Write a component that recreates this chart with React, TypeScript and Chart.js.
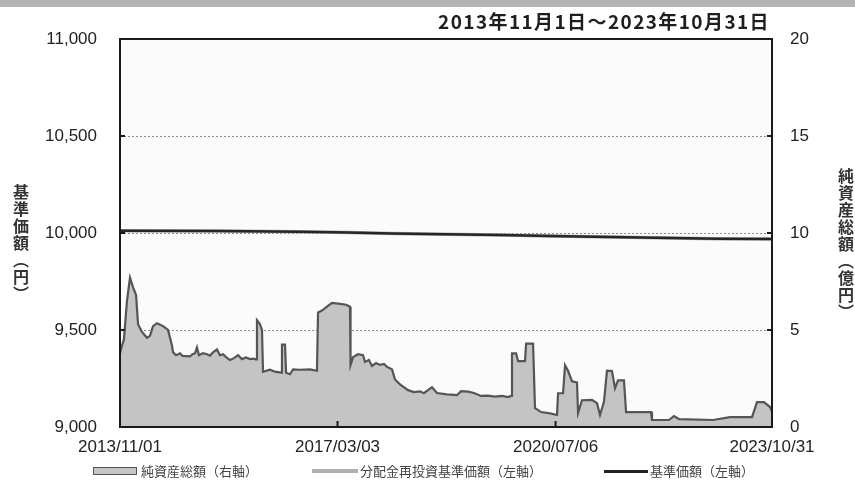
import React, { useEffect, useRef } from "react";
import { Chart, registerables } from "chart.js";

Chart.register(...registerables);

// ---- text ----
const periodLabel = "2013年11月1日～2023年10月31日";
const leftAxisTitle = "基準価額（円）";
const rightAxisTitle = "純資産総額（億円）";
const seriesNames = ["純資産総額（右軸）", "分配金再投資基準価額（左軸）", "基準価額（左軸）"];

// ---- axes ----
const xTickDays = [0, 1218, 2439, 3651]; // days since 2013/11/01
const xTickLabels = ["2013/11/01", "2017/03/03", "2020/07/06", "2023/10/31"];
const leftTicks = [9000, 9500, 10000, 10500, 11000];
const rightTicks = [0, 5, 10, 15, 20];

// ---- net assets (億円), right axis : days since 2013/11/01 ----
const navDays = [
  0, 11, 22, 39, 56, 73, 90, 101, 123, 151,
  168, 185, 207, 241, 269, 291, 297, 314, 336, 350,
  370, 392, 406, 420, 431, 442, 465, 487, 504, 521,
  543, 560, 577, 594, 616, 638, 661, 683, 705, 728,
  745, 762, 767, 784, 795, 801, 840, 868, 902, 907,
  924, 930, 952, 969, 1008, 1064, 1103, 1109, 1131, 1159,
  1187, 1232, 1266, 1288, 1291, 1305, 1333, 1361, 1372, 1394,
  1411, 1434, 1456, 1478, 1495, 1523, 1540, 1568, 1613, 1646,
  1680, 1702, 1747, 1775, 1831, 1887, 1910, 1949, 1982, 2022,
  2060, 2100, 2140, 2173, 2190, 2195, 2218, 2229, 2268, 2274,
  2313, 2324, 2358, 2408, 2447, 2453, 2481, 2492, 2509, 2531,
  2559, 2565, 2587, 2643, 2671, 2688, 2710, 2727, 2755, 2772,
  2789, 2822, 2834, 2974, 2979, 3074, 3102, 3130, 3321, 3416,
  3539, 3567, 3606, 3640, 3651,
];
const navValues = [
  3.8, 4.2, 4.5, 6.5, 7.7, 7.2, 6.8, 5.3, 4.9, 4.6,
  4.7, 5.2, 5.35, 5.2, 5.0, 4.2, 3.85, 3.7, 3.8, 3.66,
  3.65, 3.64, 3.75, 3.8, 4.1, 3.7, 3.8, 3.75, 3.68, 3.85,
  4.0, 3.7, 3.75, 3.6, 3.45, 3.55, 3.7, 3.5, 3.58, 3.5,
  3.52, 3.49, 5.5, 5.3, 5.0, 2.85, 2.95, 2.85, 2.8, 4.25,
  4.25, 2.8, 2.72, 2.97, 2.95, 2.97, 2.9, 5.9, 6.0, 6.2,
  6.4, 6.35, 6.3, 6.2, 3.2, 3.6, 3.75, 3.7, 3.35, 3.45,
  3.15, 3.3, 3.2, 3.25, 3.1, 2.97, 2.45, 2.2, 1.9, 1.8,
  1.84, 1.74, 2.05, 1.75, 1.68, 1.64, 1.85, 1.82, 1.75, 1.6,
  1.62, 1.57, 1.6, 1.54, 1.6, 3.8, 3.8, 3.4, 3.4, 4.3,
  4.3, 0.97, 0.77, 0.7, 0.62, 1.74, 1.74, 3.18, 2.9, 2.36,
  2.3, 0.72, 1.38, 1.4, 1.23, 0.62, 1.3, 2.9, 2.88, 2.0,
  2.4, 2.4, 0.77, 0.77, 0.36, 0.36, 0.56, 0.41, 0.36, 0.51,
  0.51, 1.28, 1.28, 1.03, 0.8,
];

// ---- base price (円), left axis ----
const priceDays = [0, 560, 1008, 1277, 1523, 1820, 2128, 2408, 2912, 3343, 3651];
const priceValues = [10012, 10010, 10007, 10002, 9997, 9994, 9990, 9984, 9977, 9971, 9969];
const reinvestValues = [10012, 10010, 10007, 10002, 9997, 9994, 9990, 9984, 9977, 9971, 9969];

const W = 855;
const H = 483;
const tickFont = { family: "'Liberation Sans', Arial, sans-serif", size: 17 };
const jpFont = "'Noto Sans CJK JP', 'Noto Sans', sans-serif";

const framePlugin = {
  id: "frame",
  beforeDraw(chart: any) {
    const { ctx, chartArea } = chart;
    const { left, top, right, bottom } = chartArea;
    ctx.save();
    ctx.fillStyle = "#fbfbfb";
    ctx.fillRect(left, top, right - left, bottom - top);
    ctx.restore();
  },
  afterDraw(chart: any) {
    const { ctx, chartArea, scales } = chart;
    const { left, top, right, bottom } = chartArea;
    ctx.save();
    ctx.strokeStyle = "#1a1a1a";
    ctx.lineWidth = 2;
    ctx.strokeRect(left, top, right - left, bottom - top);
    ctx.beginPath();
    leftTicks.slice(1, -1).forEach((v) => {
      const y = scales.y.getPixelForValue(v);
      ctx.moveTo(left, y);
      ctx.lineTo(left + 5, y);
    });
    rightTicks.slice(1, -1).forEach((v) => {
      const y = scales.y1.getPixelForValue(v);
      ctx.moveTo(right - 5, y);
      ctx.lineTo(right, y);
    });
    xTickDays.slice(1, -1).forEach((d) => {
      const x = scales.x.getPixelForValue(d);
      ctx.moveTo(x, bottom);
      ctx.lineTo(x, bottom - 6);
    });
    ctx.stroke();
    ctx.restore();
  },
};

export default function App() {
  const canvasRef = useRef<HTMLCanvasElement | null>(null);

  useEffect(() => {
    const canvas = canvasRef.current;
    if (!canvas) return;
    const chart = new Chart(canvas, {
      type: "line",
      data: {
        datasets: [
          {
            label: seriesNames[2],
            data: priceDays.map((d, i) => ({ x: d, y: priceValues[i] })),
            yAxisID: "y",
            borderColor: "#262626",
            borderWidth: 2.5,
            pointRadius: 0,
            fill: false,
            tension: 0,
            order: 0,
          },
          {
            label: seriesNames[1],
            data: priceDays.map((d, i) => ({ x: d, y: reinvestValues[i] })),
            yAxisID: "y",
            borderColor: "#b0b0b0",
            borderWidth: 3.5,
            pointRadius: 0,
            fill: false,
            tension: 0,
            order: 1,
          },
          {
            label: seriesNames[0],
            data: navDays.map((d, i) => ({ x: d, y: navValues[i] })),
            yAxisID: "y1",
            borderColor: "#555555",
            backgroundColor: "#c4c4c4",
            borderWidth: 2.2,
            pointRadius: 0,
            fill: "origin",
            tension: 0,
            order: 2,
          },
        ],
      },
      options: {
        animation: false,
        responsive: false,
        maintainAspectRatio: false,
        layout: { padding: { top: 39, left: 0, right: 0, bottom: 0 } },
        plugins: {
          legend: { display: false },
          title: { display: false },
          tooltip: { enabled: false },
        },
        scales: {
          x: {
            type: "linear",
            min: xTickDays[0],
            max: xTickDays[xTickDays.length - 1],
            afterBuildTicks: (s: any) => {
              s.ticks = xTickDays.map((v) => ({ value: v }));
            },
            afterFit: (s: any) => {
              s.height = 56;
            },
            ticks: {
              autoSkip: false,
              maxRotation: 0,
              padding: 10,
              color: "#222",
              font: tickFont,
              callback: (_v: any, i: number) => xTickLabels[i],
            },
            grid: { display: false, drawTicks: false },
            border: { display: false },
          },
          y: {
            type: "linear",
            position: "left",
            min: leftTicks[0],
            max: leftTicks[leftTicks.length - 1],
            afterBuildTicks: (s: any) => {
              s.ticks = leftTicks.map((v) => ({ value: v }));
            },
            afterFit: (s: any) => {
              s.width = 120;
            },
            ticks: {
              padding: 23,
              color: "#222",
              font: tickFont,
              callback: (v: any) => Number(v).toLocaleString("en-US"),
            },
            grid: {
              drawTicks: false,
              lineWidth: 1,
              color: (ctx: any) =>
                ctx.tick && ctx.tick.value > leftTicks[0] && ctx.tick.value < leftTicks[leftTicks.length - 1]
                  ? "#8c8c8c"
                  : "rgba(0,0,0,0)",
            },
            border: { display: false, dash: [2, 2] },
          },
          y1: {
            type: "linear",
            position: "right",
            min: rightTicks[0],
            max: rightTicks[rightTicks.length - 1],
            afterBuildTicks: (s: any) => {
              s.ticks = rightTicks.map((v) => ({ value: v }));
            },
            afterFit: (s: any) => {
              s.width = 83;
            },
            ticks: {
              padding: 18,
              color: "#222",
              font: tickFont,
            },
            grid: { display: false, drawTicks: false },
            border: { display: false },
          },
        },
      },
      plugins: [framePlugin],
    } as any);
    return () => chart.destroy();
  }, []);

  const legendText: React.CSSProperties = {
    position: "absolute",
    top: 463,
    fontFamily: jpFont,
    fontSize: 13,
    lineHeight: "16px",
    color: "#444",
    whiteSpace: "nowrap",
  };

  const verticalTitle: React.CSSProperties = {
    position: "absolute",
    writingMode: "vertical-rl",
    fontFamily: jpFont,
    fontSize: 16,
    fontWeight: 700,
    letterSpacing: "1px",
    lineHeight: "18px",
    color: "#333",
    whiteSpace: "nowrap",
  };

  return (
    <div
      style={{
        position: "fixed",
        left: 0,
        top: 0,
        width: W,
        height: H,
        background: "#ffffff",
        overflow: "hidden",
      }}
    >
      <div style={{ position: "absolute", left: 0, top: 0, width: W, height: 7, background: "#b3b3b3" }} />
      <canvas ref={canvasRef} width={W} height={H} style={{ position: "absolute", left: 0, top: 0, width: W, height: H }} />
      <div
        style={{
          position: "absolute",
          right: 85,
          top: 9,
          fontFamily: jpFont,
          fontSize: 19,
          fontWeight: 700,
          lineHeight: "24px",
          letterSpacing: "1.4px",
          color: "#1e1e1e",
          whiteSpace: "nowrap",
        }}
      >
        {periodLabel}
      </div>
      <div style={{ ...verticalTitle, left: 12, top: 184 }}>{leftAxisTitle}</div>
      <div style={{ ...verticalTitle, left: 837, top: 168 }}>{rightAxisTitle}</div>
      {/* legend */}
      <div
        style={{
          position: "absolute",
          left: 93,
          top: 467,
          width: 42,
          height: 6,
          background: "#c4c4c4",
          border: "1.5px solid #555",
        }}
      />
      <div style={{ ...legendText, left: 141 }}>{seriesNames[0]}</div>
      <div style={{ position: "absolute", left: 312, top: 469, width: 46, height: 4, background: "#b0b0b0" }} />
      <div style={{ ...legendText, left: 360 }}>{seriesNames[1]}</div>
      <div style={{ position: "absolute", left: 604, top: 469.5, width: 44, height: 3, background: "#222" }} />
      <div style={{ ...legendText, left: 650 }}>{seriesNames[2]}</div>
    </div>
  );
}
